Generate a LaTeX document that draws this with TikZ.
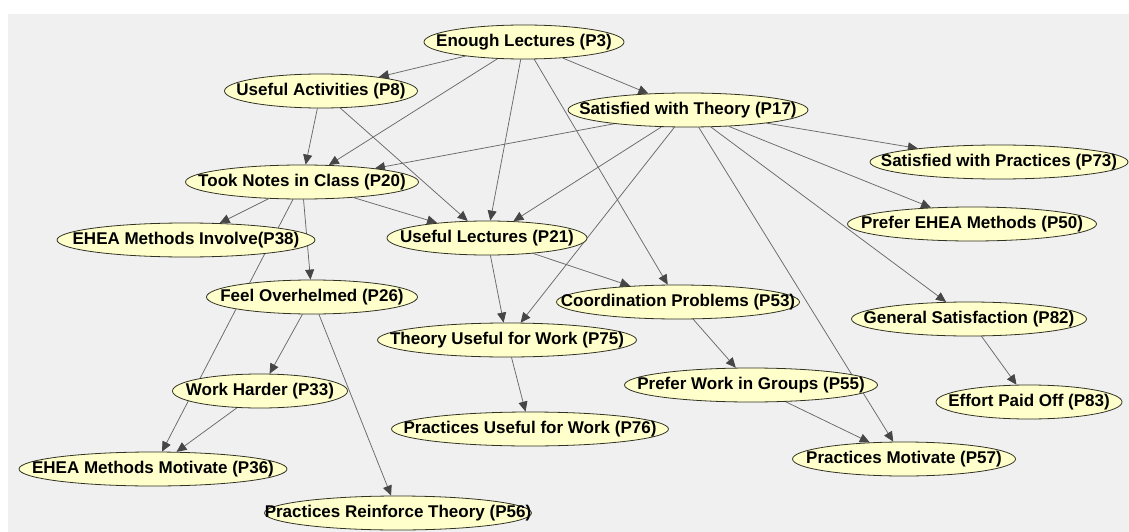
\documentclass[tikz,border=0pt]{standalone}
\usepackage{fontspec}
\setmainfont{Liberation Sans}
\usetikzlibrary{shapes.geometric,arrows.meta}
\pgfdeclarelayer{bg}
\pgfdeclarelayer{edges}
\pgfsetlayers{bg,edges,main}
\definecolor{panel}{RGB}{240,240,240}
\definecolor{nodefill}{RGB}{255,255,204}
\definecolor{nodeline}{RGB}{50,50,35}
\definecolor{edgeline}{RGB}{105,105,105}
\definecolor{tipfill}{RGB}{70,70,70}
\newcommand{\bnlabel}[1]{\makebox[0pt]{#1}}
\tikzset{
  bn/.style={ellipse, draw=nodeline, fill=nodefill, line width=0.8pt,
    inner sep=0pt, minimum height=34pt,
    font=\bfseries\fontsize{17}{18}\selectfont, text=black},
  link/.style={draw=edgeline, line width=0.75pt,
    -{Triangle[length=10pt,width=9pt,fill=tipfill,color=tipfill]}}
}
\begin{document}
\begin{tikzpicture}[x=1pt,y=-1pt]
\useasboundingbox (0,0) rectangle (1129,532);
\begin{pgfonlayer}{bg}
  \fill[white] (0,0) rectangle (1129,532);
  \fill[panel] (8,14) rectangle (1129,532);
\end{pgfonlayer}
\node[bn,minimum width=200pt] (p3) at (524,42) {\bnlabel{Enough Lectures (P3)}};
\node[bn,minimum width=193pt] (p8) at (321,91) {\bnlabel{Useful Activities (P8)}};
\node[bn,minimum width=240pt] (p17) at (688,110) {\bnlabel{Satisfied with Theory (P17)}};
\node[bn,minimum width=233pt] (p20) at (302,182) {\bnlabel{Took Notes in Class (P20)}};
\node[bn,minimum width=258pt] (p73) at (999,162) {\bnlabel{Satisfied with Practices (P73)}};
\node[bn,minimum width=249pt] (p50) at (972,224) {\bnlabel{Prefer EHEA Methods (P50)}};
\node[bn,minimum width=200pt] (p21) at (487,238) {\bnlabel{Useful Lectures (P21)}};
\node[bn,minimum width=258pt] (p38) at (186,240) {\bnlabel{EHEA Methods Involve(P38)}};
\node[bn,minimum width=211pt] (p26) at (312,297) {\bnlabel{Feel Overhelmed (P26)}};
\node[bn,minimum width=243pt] (p53) at (678,302) {\bnlabel{Coordination Problems (P53)}};
\node[bn,minimum width=235pt] (p82) at (969,319) {\bnlabel{General Satisfaction (P82)}};
\node[bn,minimum width=259pt] (p75) at (507,340) {\bnlabel{Theory Useful for Work (P75)}};
\node[bn,minimum width=175pt] (p33) at (260,391) {\bnlabel{Work Harder (P33)}};
\node[bn,minimum width=253pt] (p55) at (751,385) {\bnlabel{Prefer Work in Groups (P55)}};
\node[bn,minimum width=186pt] (p83) at (1029,402) {\bnlabel{Effort Paid Off (P83)}};
\node[bn,minimum width=277pt] (p76) at (530,429) {\bnlabel{Practices Useful for Work (P76)}};
\node[bn,minimum width=268pt] (p36) at (153,469) {\bnlabel{EHEA Methods Motivate (P36)}};
\node[bn,minimum width=223pt] (p57) at (904,459) {\bnlabel{Practices Motivate (P57)}};
\node[bn,minimum width=267pt] (p56) at (398,513) {\bnlabel{Practices Reinforce Theory (P56)}};
\begin{pgfonlayer}{edges}
  \draw[link] (p3) -- (p8);
  \draw[link] (p3) -- (p17);
  \draw[link] (p3) -- (p20);
  \draw[link] (p3) -- (p21);
  \draw[link] (p3) -- (p53);
  \draw[link] (p8) -- (p20);
  \draw[link] (p8) -- (p21);
  \draw[link] (p17) -- (p20);
  \draw[link] (p17) -- (p21);
  \draw[link] (p17) -- (p75);
  \draw[link] (p17) -- (p57);
  \draw[link] (p17) -- (p82);
  \draw[link] (p17) -- (p50);
  \draw[link] (p17) -- (p73);
  \draw[link] (p20) -- (p38);
  \draw[link] (p20) -- (p26);
  \draw[link] (p20) -- (p36);
  \draw[link] (p20) -- (p21);
  \draw[link] (p26) -- (p33);
  \draw[link] (p26) -- (p56);
  \draw[link] (p33) -- (p36);
  \draw[link] (p21) -- (p75);
  \draw[link] (p21) -- (p53);
  \draw[link] (p53) -- (p55);
  \draw[link] (p55) -- (p57);
  \draw[link] (p75) -- (p76);
  \draw[link] (p82) -- (p83);
\end{pgfonlayer}
\end{tikzpicture}
\end{document}
